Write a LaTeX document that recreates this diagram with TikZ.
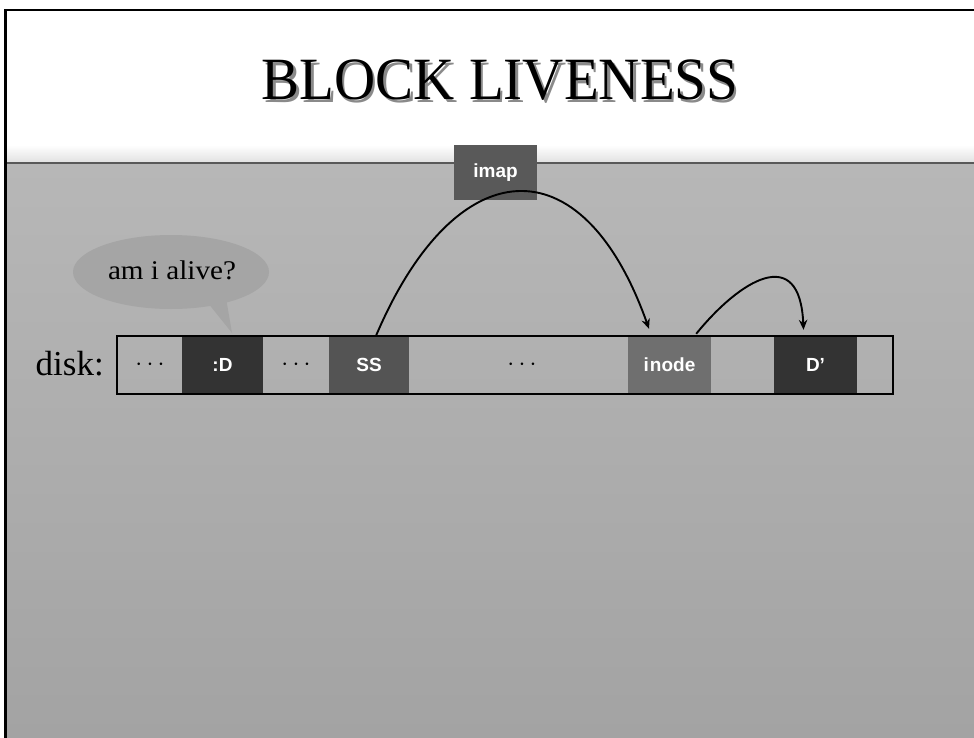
\documentclass[tikz,border=0pt]{standalone}
\usepackage{fontspec}
\setmainfont{Liberation Serif}
\newfontfamily\cellfont{Liberation Sans}
\usetikzlibrary{shapes.geometric,arrows.meta}
\definecolor{bodytop}{HTML}{B7B7B7}
\definecolor{bodybot}{HTML}{A3A3A3}
\definecolor{bubblecol}{HTML}{A5A5A5}
\definecolor{darkcell}{HTML}{333333}
\definecolor{sscol}{HTML}{545454}
\definecolor{imapcol}{HTML}{595959}
\definecolor{inodecol}{HTML}{6F6F6F}
\definecolor{shadowcol}{HTML}{8A8A8A}
\tikzset{
  cellbox/.style={minimum height=58pt, inner sep=0pt, text=white,
    font=\cellfont\bfseries\fontsize{19}{19}\selectfont},
  dotsbox/.style={inner sep=0pt, font=\fontsize{26}{26}\selectfont},
  conn/.style={line width=1.9pt, -{Stealth[length=10pt,width=8.5pt]}},
}
\begin{document}
\begin{tikzpicture}[x=1pt,y=-1pt]
\useasboundingbox (0,0) rectangle (974,738);
\fill[white] (0,0) rectangle (974,738);
% header gradient
\shade[top color=white, bottom color=black!12] (6,145) rectangle (974,163);
% body
\shade[top color=bodytop, bottom color=bodybot] (6,163) rectangle (974,738);
\draw[line width=1.3pt, black!65] (6,163) -- (974,163);
% slide border
\draw[line width=2.5pt] (5.5,738) -- (5.5,10) -- (974,10);

% title with shadow
\node[anchor=base, xscale=0.95, inner sep=0pt, font=\fontsize{60}{60}\selectfont] (title) at (500,100)
  {\rlap{\kern2.5pt\raisebox{-2.5pt}{\textcolor{shadowcol}{BLOCK LIVENESS}}}BLOCK LIVENESS};

% speech bubble
\coordinate (tailtip) at (232,333);
\node[ellipse, fill=bubblecol, minimum width=196pt, minimum height=74pt, inner sep=0pt] (bubble) at (171,272) {};
\fill[bubblecol] (208,303) -- (tailtip) -- (226,298) -- cycle;
\node[anchor=base, xscale=1.08, font=\fontsize{27}{27}\selectfont] (question) at (172,279) {am i alive?};

% disk label
\node[anchor=base east, inner sep=0pt, font=\fontsize{35}{35}\selectfont] (disklabel) at (104,375) {disk:};

% cells
\node[dotsbox] (dots1) at (150,365) {$\cdots$};
\node[cellbox, fill=darkcell, minimum width=81pt] (dcell) at (222.5,365) {:D};
\node[dotsbox] (dots2) at (296,365) {$\cdots$};
\node[cellbox, fill=sscol, minimum width=80pt] (ss) at (369,365) {SS};
\node[dotsbox] (dots3) at (522,365) {$\cdots$};
\node[cellbox, fill=inodecol, minimum width=83pt] (inode) at (669.5,365) {i\kern1pt node};
\node[cellbox, fill=darkcell, minimum width=83pt] (dprime) at (815.5,365) {D’};

% disk frame
\node[draw, line width=2.5pt, minimum width=776pt, minimum height=58pt, inner sep=0pt] (disk) at (505,365) {};

% imap
\node[cellbox, fill=imapcol, minimum width=83pt, minimum height=55pt] (imap) at (495.5,172.5) {imap};

% arrows
\draw[conn] ([xshift=7pt]ss.north) .. controls (455,150) and (582,140) .. ([xshift=-20.5pt,yshift=7pt]inode.north);
\draw[conn] ([xshift=-15pt,yshift=2pt]inode.north east) .. controls (740,280) and (800,243) .. ([xshift=-12pt,yshift=6pt]dprime.north);
\end{tikzpicture}
\end{document}
